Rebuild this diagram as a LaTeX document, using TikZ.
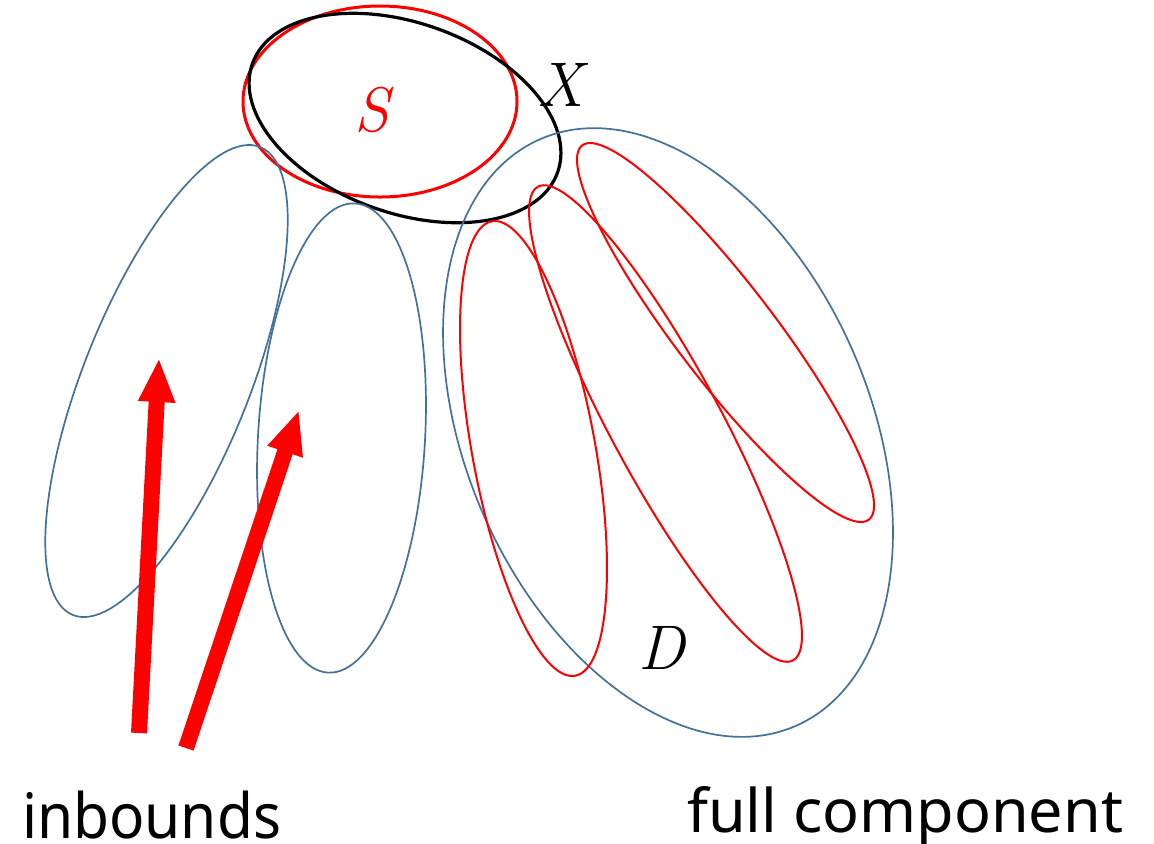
\documentclass[tikz,border=0pt]{standalone}
\usepackage{fontspec}
\usepackage{graphicx}
\newfontfamily\labelfont{Noto Sans}
\usetikzlibrary{arrows.meta}
\definecolor{setblue}{RGB}{65,113,156}
\definecolor{setred}{RGB}{255,0,0}
\tikzset{
  blueset/.style={draw=setblue, line width=0.85pt},
  redset/.style={draw=setred, line width=1pt},
  sset/.style={draw=setred, line width=1.5pt},
  xset/.style={draw=black, line width=1.6pt},
  bigarrow/.style={draw=setred, line width=8pt, -{Triangle[width=17pt,length=22pt]}},
  mathlabel/.style={inner sep=0pt, font=\fontsize{31.5pt}{36pt}\selectfont\itshape},
  wordlabel/.style={inner sep=0pt, anchor=base west}
}
\begin{document}
\begin{tikzpicture}[x=0.5pt,y=-0.5pt]
\useasboundingbox (0,0) rectangle (1154,843);
% S and X
\draw[sset] (380,101.5) ellipse [x radius=137, y radius=95.5];
\draw[xset, rotate around={-19.6:(405,118)}] (405,118) ellipse [x radius=162, y radius=95];
% inbound sets
\draw[blueset, rotate around={68.2:(166.5,381)}] (166.5,381) ellipse [x radius=252, y radius=83];
\draw[blueset, rotate around={86.7:(341.5,438)}] (341.5,438) ellipse [x radius=235, y radius=83.5];
% full component
\draw[blueset, rotate around={-66.5:(668,432.5)}] (668,432.5) ellipse [x radius=320, y radius=202];
\draw[redset, rotate around={-79.6:(533.5,448.5)}] (533.5,448.5) ellipse [x radius=231, y radius=61.5];
\draw[redset, rotate around={-61.7:(665.5,423.5)}] (665.5,423.5) ellipse [x radius=269, y radius=55];
\draw[redset, rotate around={-52.55:(725.5,332.5)}] (725.5,332.5) ellipse [x radius=235.7, y radius=48.9];
% labels
\node[mathlabel, text=setred] (S) at (372,110) {S};
\node[mathlabel] (X) at (560,85) {X};
\node[mathlabel] (D) at (662,648) {D};
\node[wordlabel] (inb) at (21.7,838) {\resizebox{129.5pt}{23.75pt}{\labelfont inbounds}};
\node[wordlabel] (full) at (686.7,832.7) {\resizebox{218pt}{23pt}{\labelfont full component}};
% arrows
\coordinate (a1s) at (139,733);
\coordinate (a1e) at (159,358);
\coordinate (a2s) at (186,748);
\coordinate (a2e) at (299,410);
\draw[bigarrow] (a1s) -- (a1e);
\draw[bigarrow] (a2s) -- (a2e);
\end{tikzpicture}
\end{document}
